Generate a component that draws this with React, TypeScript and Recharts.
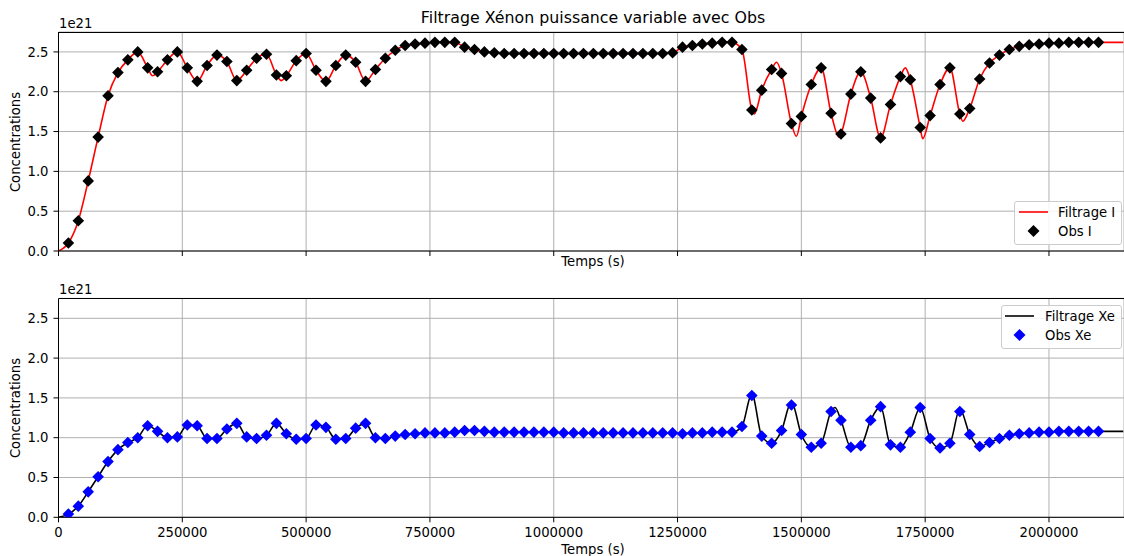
import { CartesianGrid, ComposedChart, Line, Scatter, XAxis, YAxis } from "recharts";

// observations every 20000 s, values in units of 1e21
const OBS_STEP = 20000;

const OBS_I = [
  0.1, 0.38, 0.88, 1.43, 1.95, 2.24, 2.4, 2.5, 2.3, 2.25,
  2.4, 2.5, 2.3, 2.13, 2.33, 2.46, 2.38, 2.14, 2.27, 2.42,
  2.47, 2.21, 2.2, 2.39, 2.48, 2.27, 2.13, 2.33, 2.46, 2.37,
  2.13, 2.28, 2.42, 2.52, 2.58, 2.6, 2.61, 2.62, 2.62, 2.62,
  2.56, 2.53, 2.5, 2.49, 2.48, 2.48, 2.48, 2.48, 2.48, 2.48,
  2.48, 2.48, 2.48, 2.48, 2.48, 2.48, 2.48, 2.48, 2.48, 2.48,
  2.48, 2.49, 2.56, 2.58, 2.6, 2.61, 2.62, 2.62, 2.53, 1.77,
  2.02, 2.28, 2.23, 1.6, 1.69, 2.09, 2.3, 1.73, 1.47, 1.97,
  2.25, 1.92, 1.42, 1.84, 2.19, 2.15, 1.55, 1.7, 2.09, 2.3,
  1.72, 1.79, 2.16, 2.36, 2.46, 2.53, 2.57, 2.59, 2.6, 2.61,
  2.61, 2.62, 2.62, 2.62, 2.62,
];

const OBS_XE = [
  0.04, 0.14, 0.32, 0.51, 0.7, 0.85, 0.94, 1.0, 1.15, 1.08,
  1.0, 1.01, 1.16, 1.15, 0.99, 0.99, 1.11, 1.18, 1.01, 0.99,
  1.03, 1.18, 1.05, 0.98, 0.99, 1.16, 1.13, 0.98, 0.99, 1.12,
  1.18, 1.0, 0.99, 1.02, 1.04, 1.05, 1.06, 1.06, 1.06, 1.07,
  1.09, 1.09, 1.08, 1.07, 1.07, 1.07, 1.07, 1.07, 1.07, 1.07,
  1.06, 1.06, 1.06, 1.06, 1.06, 1.06, 1.06, 1.06, 1.06, 1.06,
  1.06, 1.06, 1.05, 1.06, 1.06, 1.07, 1.07, 1.07, 1.14, 1.53,
  1.02, 0.93, 1.09, 1.41, 1.04, 0.88, 0.93, 1.33, 1.22, 0.88,
  0.9, 1.22, 1.39, 0.91, 0.88, 1.07, 1.38, 0.99, 0.87, 0.93,
  1.33, 1.04, 0.89, 0.94, 0.99, 1.03, 1.05, 1.06, 1.07, 1.07,
  1.08, 1.08, 1.08, 1.08, 1.08,
];

// filter points that differ from the observations (time, value)
const FILTER_I_EXTRA: [number, number][] = [
  [0, 0], [190000, 2.2], [450000, 2.14], [1405000, 1.72], [1450000, 2.37],
  [1490000, 1.44], [1576000, 1.43], [1710000, 2.3], [1745000, 1.41],
  [1826000, 1.63], [2150000, 2.62],
];

const FILTER_XE_EXTRA: [number, number][] = [
  [0, 0], [1400000, 1.55], [1480000, 1.45], [1568000, 1.38], [1820000, 1.36],
  [2150000, 1.08],
];

const X_TICKS = [0, 250000, 500000, 750000, 1000000, 1250000, 1500000, 1750000, 2000000];
const Y_TICKS = [0, 0.5, 1, 1.5, 2, 2.5];

const FONT = "'DejaVu Sans', sans-serif";

type Row = { t: number; v: number };

function obsRows(values: number[]): Row[] {
  return values.map((v, i) => ({ t: (i + 1) * OBS_STEP, v }));
}

function filterRows(values: number[], extra: [number, number][]): Row[] {
  const map = new Map<number, number>();
  obsRows(values).forEach((r) => map.set(r.t, r.v));
  extra.forEach(([t, v]) => map.set(t, v));
  return [...map.entries()].sort((a, b) => a[0] - b[0]).map(([t, v]) => ({ t, v }));
}

function makeDiamond(color: string) {
  return (props: any) => {
    const { cx, cy } = props;
    const r = 5.8;
    return (
      <polygon
        points={`${cx},${cy - r} ${cx + r},${cy} ${cx},${cy + r} ${cx - r},${cy}`}
        fill={color}
      />
    );
  };
}

const EmptyTick = () => <g />;

type PanelProps = {
  top: number;
  height: number;
  marginTop: number;
  xAxisHeight: number;
  obs: Row[];
  filter: Row[];
  lineColor: string;
  markerColor: string;
  showXLabels: boolean;
};

function Panel({ top, height, marginTop, xAxisHeight, obs, filter, lineColor, markerColor, showXLabels }: PanelProps) {
  const tickStyle = { fill: "#000", fontSize: 13.2, fontFamily: FONT };
  return (
    <div style={{ position: "absolute", left: 0, top }}>
      <ComposedChart width={1130} height={height} margin={{ top: marginTop, right: 6, bottom: 0, left: 0 }}>
        <CartesianGrid stroke="#b0b0b0" strokeWidth={1} />
        <XAxis
          dataKey="t"
          type="number"
          domain={[0, 2151500]}
          ticks={X_TICKS}
          allowDataOverflow
          height={xAxisHeight}
          tickSize={5}
          tickMargin={5}
          tick={showXLabels ? tickStyle : EmptyTick}
          stroke="#000"
          tickLine={{ stroke: "#000" }}
          interval={0}
        />
        <YAxis
          type="number"
          domain={[0, 2.75]}
          ticks={Y_TICKS}
          allowDataOverflow
          width={58.5}
          tickSize={5}
          tickMargin={5}
          tick={tickStyle}
          tickFormatter={(v: number) => v.toFixed(1)}
          stroke="#000"
          tickLine={{ stroke: "#000" }}
          interval={0}
        />
        <Line
          data={filter}
          dataKey="v"
          type="monotone"
          stroke={lineColor}
          strokeWidth={1.6}
          dot={false}
          isAnimationActive={false}
        />
        <Scatter data={obs} dataKey="v" shape={makeDiamond(markerColor)} isAnimationActive={false} />
      </ComposedChart>
    </div>
  );
}

function Text({ x, y, children, size = 13.2, rotate = 0, anchor = "center" }: any) {
  const tx = anchor === "left" ? "0" : "-50%";
  return (
    <div
      style={{
        position: "absolute",
        left: x,
        top: y,
        transform: `translate(${tx}, -50%) rotate(${rotate}deg)`,
        fontSize: size,
        fontFamily: FONT,
        color: "#000",
        whiteSpace: "nowrap",
        lineHeight: 1,
      }}
    >
      {children}
    </div>
  );
}

function LegendBox({ left, top, width, height, lineColor, markerColor, lineLabel, obsLabel, lineX, textX }: any) {
  return (
    <div
      style={{
        position: "absolute",
        left,
        top,
        width,
        height,
        border: "1px solid #cccccc",
        borderRadius: 3,
        background: "rgba(255,255,255,0.85)",
        boxSizing: "border-box",
      }}
    >
      <svg width={width} height={height} style={{ position: "absolute", left: -1, top: -1 }}>
        <line x1={lineX} x2={lineX + 29} y1={11} y2={11} stroke={lineColor} strokeWidth={1.6} />
        <polygon
          points={`${lineX + 14.5},${24} ${lineX + 20.5},${30} ${lineX + 14.5},${36} ${lineX + 8.5},${30}`}
          fill={markerColor}
        />
      </svg>
      <Text x={textX} y={11} anchor="left">{lineLabel}</Text>
      <Text x={textX} y={30} anchor="left">{obsLabel}</Text>
    </div>
  );
}

export default function App() {
  const obsI = obsRows(OBS_I);
  const obsXe = obsRows(OBS_XE);
  const filterI = filterRows(OBS_I, FILTER_I_EXTRA);
  const filterXe = filterRows(OBS_XE, FILTER_XE_EXTRA);

  return (
    <div
      style={{
        position: "absolute",
        left: 0,
        top: 0,
        width: 1124,
        height: 556,
        overflow: "hidden",
        background: "#fff",
        fontFamily: FONT,
      }}
    >
      <Panel
        top={0}
        height={280}
        marginTop={32}
        xAxisHeight={29}
        obs={obsI}
        filter={filterI}
        lineColor="#ff0000"
        markerColor="#000000"
        showXLabels={false}
      />
      <Panel
        top={266}
        height={290}
        marginTop={32.4}
        xAxisHeight={38.7}
        obs={obsXe}
        filter={filterXe}
        lineColor="#000000"
        markerColor="#0000ff"
        showXLabels={true}
      />
      {/* top spines */}
      <div style={{ position: "absolute", left: 58.5, top: 32, width: 1070, borderTop: "1px solid #000" }} />
      <div style={{ position: "absolute", left: 58.5, top: 298, width: 1070, borderTop: "1px solid #000" }} />

      <Text x={593} y={18} size={15.8}>Filtrage Xénon puissance variable avec Obs</Text>
      <Text x={59} y={24} anchor="left">1e21</Text>
      <Text x={59} y={290} anchor="left">1e21</Text>
      <Text x={16} y={142} rotate={-90}>Concentrations</Text>
      <Text x={16} y={408} rotate={-90}>Concentrations</Text>
      <Text x={593} y={262}>Temps (s)</Text>
      <Text x={593} y={550}>Temps (s)</Text>

      <LegendBox
        left={1014}
        top={201}
        width={108}
        height={44}
        lineColor="#ff0000"
        markerColor="#000000"
        lineLabel="Filtrage I"
        obsLabel="Obs I"
        lineX={5}
        textX={43}
      />
      <LegendBox
        left={1001}
        top={305}
        width={121}
        height={44}
        lineColor="#000000"
        markerColor="#0000ff"
        lineLabel="Filtrage Xe"
        obsLabel="Obs Xe"
        lineX={4}
        textX={43}
      />
    </div>
  );
}
